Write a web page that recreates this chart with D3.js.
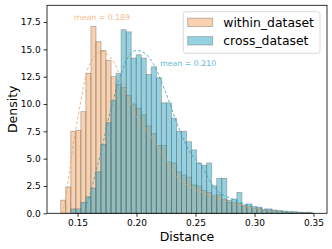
<!DOCTYPE html>
<html><head><meta charset="utf-8">
<script src="https://cdn.jsdelivr.net/npm/d3@7"></script>
<style>html,body{margin:0;padding:0;background:#fff;} svg{display:block;font-family:"DejaVu Sans",sans-serif;}</style>
</head><body><svg id="c" width="332" height="249"></svg>
<script>
// ---- data ----
const seriesNames = ["within_dataset", "cross_dataset"];
const binStart = 0.1358;
const binWidth = 0.004264;
const withinDensity = [1.2, 2.4, 7.5, 7.6, 9.3, 12.8, 17.1, 15.7, 14.9, 14.0,
  12.5, 11.8, 11.5, 10.8, 10.0, 9.6, 9.0, 8.0, 7.3, 6.2,
  6.2, 4.7, 4.6, 3.8, 3.5, 3.3, 2.6, 2.5, 2.1, 1.9,
  1.6, 1.7, 1.3, 1.0, 1.0, 0.9, 0.7, 0.6, 0.45, 0.4,
  0.3, 0.25, 0.2, 0.15, 0.12, 0.1, 0.05, 0.05, 0.03, 0.02];
const crossDensity = [0, 0, 0.4, 0.4, 1.0, 1.5, 2.3, 3.8, 6.3, 8.3,
  10.3, 12.8, 16.8, 16.6, 14.2, 14.5, 14.2, 12.7, 13.4, 12.4,
  10.1, 10.1, 8.7, 7.5, 7.5, 6.55, 5.8, 4.6, 4.4, 4.6,
  2.5, 3.2, 3.2, 1.2, 1.3, 1.9, 0.76, 0.85, 0.6, 0.55,
  0.35, 0.4, 0.3, 0.25, 0.2, 0.15, 0.15, 0.1, 0.08, 0.1];
const withinFitX = [0.1375, 0.1408, 0.1464, 0.1521, 0.1578, 0.1634, 0.1705, 0.1761, 0.1803, 0.1888, 0.1973, 0.2114, 0.2227, 0.2326, 0.2425, 0.2538, 0.2665, 0.2835, 0.3004, 0.32];
const withinFitY = [0, 2.0, 6.25, 9.8, 12.9, 14.2, 14.8, 14.5, 13.9, 11.9, 9.45, 7.15, 5.3, 3.5, 2.6, 2.0, 1.5, 0.9, 0.45, 0.15];
const crossFitX = [0.156, 0.1634, 0.1705, 0.1775, 0.186, 0.193, 0.2002, 0.2075, 0.2142, 0.2242, 0.2369, 0.2453, 0.2538, 0.2665, 0.2835, 0.3004, 0.32];
const crossFitY = [0, 2.9, 5.9, 9.2, 12.5, 14.3, 14.9, 14.6, 13.7, 11.2, 7.5, 5.6, 4.5, 2.3, 1.2, 0.6, 0.2];
const meanValues = [0.189, 0.210];
const meanLabelX = [0.1708, 0.2438];
const meanLabelY = [17.93, 13.72];
const xTicks = [0.15, 0.20, 0.25, 0.30, 0.35];
const yTicks = [0.0, 2.5, 5.0, 7.5, 10.0, 12.5, 15.0, 17.5];
const xDomain = [0.12415, 0.36144];
const yDomain = [0, 19.03];

// ---- style ----
const baseColors = ["rgb(244,164,96)", "rgb(44,165,196)"];
const L = 47, R = 327, T = 5.3, B = 213.3;

const svg = d3.select("#c");
svg.append("rect").attr("width", 332).attr("height", 249).attr("fill", "#fff");
const x = d3.scaleLinear().domain(xDomain).range([L, R]);
const y = d3.scaleLinear().domain(yDomain).range([B, T]);

const series = [withinDensity, crossDensity];
series.forEach((vals, si) => {
  const g = svg.append("g");
  g.selectAll("rect").data(vals.map((v, i) => ({v, i})).filter(d => d.v > 0))
    .enter().append("rect")
    .attr("x", d => x(binStart + d.i * binWidth))
    .attr("width", d => x(binStart + (d.i + 1) * binWidth) - x(binStart + d.i * binWidth))
    .attr("y", d => y(d.v))
    .attr("height", d => y(0) - y(d.v))
    .attr("fill", baseColors[si]).attr("fill-opacity", 0.5)
    .attr("stroke", "rgb(100,100,100)").attr("stroke-opacity", 0.45).attr("stroke-width", 0.9);
});

const fits = [[withinFitX, withinFitY], [crossFitX, crossFitY]];
fits.forEach(([fx, fy], si) => {
  const line = d3.line().x(d => x(d[0])).y(d => y(d[1])).curve(d3.curveMonotoneX);
  svg.append("path").datum(fx.map((v, i) => [v, fy[i]]))
    .attr("d", line).attr("fill", "none")
    .attr("stroke", baseColors[si]).attr("stroke-opacity", 0.8)
    .attr("stroke-width", 1).attr("stroke-dasharray", "3,2");
  svg.append("text").attr("x", x(meanLabelX[si])).attr("y", y(meanLabelY[si]))
    .attr("dy", "0.36em").attr("text-anchor", "middle")
    .attr("font-size", 7.8).attr("fill", baseColors[si]).attr("fill-opacity", 0.8)
    .text("mean = " + d3.format(".3f")(meanValues[si]));
});

// axes
const xAxis = svg.append("g").attr("transform", `translate(0,${B})`)
  .call(d3.axisBottom(x).tickValues(xTicks).tickFormat(d3.format(".2f")).tickSize(3.5).tickPadding(2.8));
const yAxis = svg.append("g").attr("transform", `translate(${L},0)`)
  .call(d3.axisLeft(y).tickValues(yTicks).tickFormat(d3.format(".1f")).tickSize(3.5).tickPadding(2.8));
[xAxis, yAxis].forEach(a => {
  a.select(".domain").remove();
  a.selectAll("text").attr("font-size", 9).attr("font-family", "DejaVu Sans").attr("fill", "#000");
  a.selectAll("line").attr("stroke", "#000").attr("stroke-width", 0.8);
});
svg.append("rect").attr("x", L).attr("y", T).attr("width", R - L).attr("height", B - T)
  .attr("fill", "none").attr("stroke", "#000").attr("stroke-width", 0.8);

svg.append("text").attr("x", (L + R) / 2).attr("y", 241).attr("text-anchor", "middle")
  .attr("font-size", 12.5).text("Distance");
svg.append("text").attr("transform", `translate(16.5,${(T + B) / 2}) rotate(-90)`)
  .attr("text-anchor", "middle").attr("font-size", 12.5).text("Density");

// legend
const lg = svg.append("g");
lg.append("rect").attr("x", 183.3).attr("y", 11.7).attr("width", 136.7).attr("height", 41.6)
  .attr("rx", 2.5).attr("fill", "#fff").attr("fill-opacity", 0.8)
  .attr("stroke", "#d0d0d0").attr("stroke-width", 0.8);
seriesNames.forEach((name, i) => {
  const cy = 22.4 + i * 18.4;
  lg.append("rect").attr("x", 187.7).attr("y", cy - 4.2).attr("width", 25).attr("height", 8.4)
    .attr("fill", baseColors[i]).attr("fill-opacity", 0.5)
    .attr("stroke", "rgb(100,100,100)").attr("stroke-opacity", 0.45).attr("stroke-width", 0.9);
  lg.append("text").attr("x", 223.3).attr("y", cy).attr("dy", "0.36em")
    .attr("font-size", 12.4).text(name);
});
</script>
</body></html>
